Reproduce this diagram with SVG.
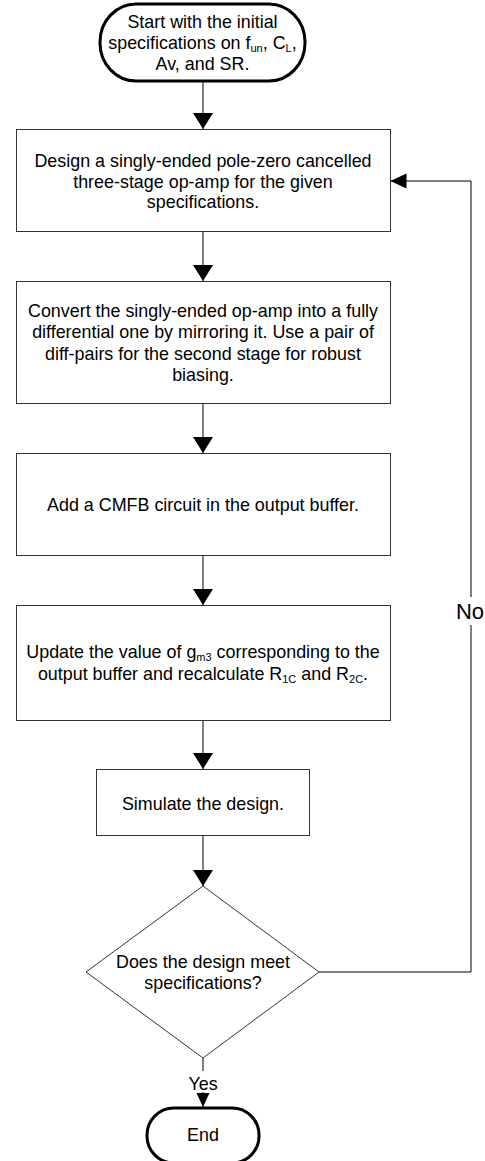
<svg xmlns="http://www.w3.org/2000/svg" width="485" height="1161" viewBox="0 0 485 1161">
<style>
text{font-family:"Liberation Sans",Arial,sans-serif;font-size:17.9px;fill:#000;text-anchor:middle}
.box{fill:#fff;stroke:#333;stroke-width:1}
.term{fill:#fff;stroke:#000;stroke-width:3}
.con{fill:none;stroke:#000;stroke-width:1}
.sub{font-size:11px}
.lbl{fill:#fff;stroke:none}
</style>
<defs>
<marker id="arrL" markerUnits="userSpaceOnUse" markerWidth="16" markerHeight="20" refX="16" refY="10" orient="auto"><path d="M0,0 L16,10 L0,20 z" fill="#000"/></marker>
<marker id="arrM" markerUnits="userSpaceOnUse" markerWidth="16" markerHeight="16" refX="16" refY="8" orient="auto"><path d="M0,0.5 L16,8 L0,15.5 z" fill="#000"/></marker>
<marker id="arrS" markerUnits="userSpaceOnUse" markerWidth="14" markerHeight="14" refX="14" refY="7" orient="auto"><path d="M0,0.5 L14,7 L0,13.5 z" fill="#000"/></marker>
</defs>
<g id="connectors">
<path class="con" d="M203,81 V129" marker-end="url(#arrL)"/>
<path class="con" d="M203,232 V281" marker-end="url(#arrL)"/>
<path class="con" d="M203,404 V453" marker-end="url(#arrL)"/>
<path class="con" d="M203,556 V605" marker-end="url(#arrL)"/>
<path class="con" d="M203,721 V769" marker-end="url(#arrL)"/>
<path class="con" d="M203,836 V886" marker-end="url(#arrL)"/>
<path class="con" d="M203,1058 V1107" marker-end="url(#arrS)"/>
<path class="con" d="M319,972 H471 V181 H390.5" marker-end="url(#arrM)"/>
<rect class="lbl" x="456" y="597" width="29" height="28"/>
<text x="470" y="618.5" style="font-size:22px">No</text>
<rect class="lbl" x="188" y="1071" width="30" height="21"/>
<text x="203" y="1089.5">Yes</text>
</g>
<g id="start">
<rect class="term" x="100" y="4" width="205" height="77" rx="36" ry="38"/>
<text x="202.5" y="28">Start with the initial</text>
<text x="202.5" y="49">specifications on f<tspan class="sub" dy="3">un</tspan><tspan dy="-3">, C</tspan><tspan class="sub" dy="3">L</tspan><tspan dy="-3">,</tspan></text>
<text x="202.5" y="70">Av, and SR.</text>
</g>
<g id="design">
<rect class="box" x="16.5" y="129.5" width="374" height="102"/>
<text x="203" y="167">Design a singly-ended pole-zero cancelled</text>
<text x="203" y="187.5">three-stage op-amp for the given</text>
<text x="203" y="208">specifications.</text>
</g>
<g id="convert">
<rect class="box" x="16.5" y="281.5" width="374" height="122"/>
<text x="203" y="316.5">Convert the singly-ended op-amp into a fully</text>
<text x="203" y="338">differential one by mirroring it. Use a pair of</text>
<text x="203" y="359.5">diff-pairs for the second stage for robust</text>
<text x="203" y="381">biasing.</text>
</g>
<g id="cmfb">
<rect class="box" x="16.5" y="453.5" width="374" height="102"/>
<text x="203" y="510.5">Add a CMFB circuit in the output buffer.</text>
</g>
<g id="update">
<rect class="box" x="16.5" y="605.5" width="374" height="115"/>
<text x="203" y="658">Update the value of g<tspan class="sub" dy="3">m3</tspan><tspan dy="-3"> corresponding to the</tspan></text>
<text x="203" y="680">output buffer and recalculate R<tspan class="sub" dy="3">1C</tspan><tspan dy="-3"> and R</tspan><tspan class="sub" dy="3">2C</tspan><tspan dy="-3">.</tspan></text>
</g>
<g id="simulate">
<rect class="box" x="96.5" y="769.5" width="213" height="66"/>
<text x="203" y="809.5">Simulate the design.</text>
</g>
<g id="decision">
<path class="box" d="M203,886 L319,972 L203,1058 L86,972 Z"/>
<text x="203" y="967.5">Does the design meet</text>
<text x="203" y="989">specifications?</text>
</g>
<g id="end">
<rect class="term" x="147" y="1108" width="112" height="55" rx="27" ry="27"/>
<text x="203" y="1141">End</text>
</g>
</svg>
